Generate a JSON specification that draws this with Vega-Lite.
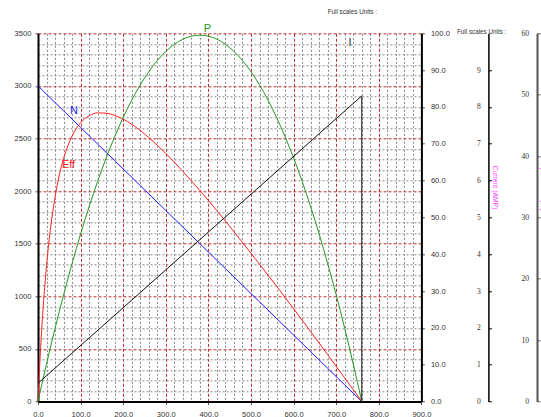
{
  "$schema": "https://vega.github.io/schema/vega-lite/v6.json",
  "autosize": {"type": "none"},
  "padding": {"left": 38, "top": 33.3, "right": 119.6, "bottom": 15.5},
  "width": 383.4,
  "height": 368.2,
  "config": {
    "view": {"stroke": null},
    "font": "Liberation Sans",
    "axis": {"labelFont": "Liberation Sans", "labelFontSize": 7.6, "labelColor": "#333333", "labelFlush": false, "labelOverlap": false, "titleFont": "Liberation Sans"}
  },
  "datasets": {
    "curves": [
      {"torque": 0, "speed": 3000, "eff": 0, "power": 0},
      {"torque": 2, "speed": 2992.1, "eff": 5.1, "power": 0.63},
      {"torque": 5, "speed": 2980.3, "eff": 12.1, "power": 1.56},
      {"torque": 10, "speed": 2960.5, "eff": 21.9, "power": 3.10},
      {"torque": 20, "speed": 2921.1, "eff": 36.9, "power": 6.12},
      {"torque": 30, "speed": 2881.6, "eff": 47.6, "power": 9.05},
      {"torque": 40, "speed": 2842.1, "eff": 55.5, "power": 11.91},
      {"torque": 50, "speed": 2802.6, "eff": 61.5, "power": 14.68},
      {"torque": 60, "speed": 2763.2, "eff": 66.0, "power": 17.36},
      {"torque": 80, "speed": 2684.2, "eff": 72.1, "power": 22.49},
      {"torque": 100, "speed": 2605.3, "eff": 75.7, "power": 27.28},
      {"torque": 120, "speed": 2526.3, "eff": 77.6, "power": 31.75},
      {"torque": 140, "speed": 2447.4, "eff": 78.4, "power": 35.88},
      {"torque": 160, "speed": 2368.4, "eff": 78.3, "power": 39.68},
      {"torque": 180, "speed": 2289.5, "eff": 77.7, "power": 43.16},
      {"torque": 200, "speed": 2210.5, "eff": 76.7, "power": 46.30},
      {"torque": 240, "speed": 2052.6, "eff": 73.6, "power": 51.59},
      {"torque": 280, "speed": 1894.7, "eff": 69.6, "power": 55.56},
      {"torque": 320, "speed": 1736.8, "eff": 65.0, "power": 58.20},
      {"torque": 360, "speed": 1578.9, "eff": 59.9, "power": 59.53},
      {"torque": 380, "speed": 1500, "eff": 57.3, "power": 59.69},
      {"torque": 400, "speed": 1421.1, "eff": 54.6, "power": 59.53},
      {"torque": 440, "speed": 1263.2, "eff": 49.0, "power": 58.20},
      {"torque": 480, "speed": 1105.3, "eff": 43.2, "power": 55.56},
      {"torque": 520, "speed": 947.4, "eff": 37.3, "power": 51.59},
      {"torque": 560, "speed": 789.5, "eff": 31.3, "power": 46.30},
      {"torque": 600, "speed": 631.6, "eff": 25.2, "power": 39.68},
      {"torque": 640, "speed": 473.7, "eff": 19.0, "power": 31.75},
      {"torque": 680, "speed": 315.8, "eff": 12.7, "power": 22.49},
      {"torque": 720, "speed": 157.9, "eff": 6.4, "power": 11.91},
      {"torque": 740, "speed": 78.9, "eff": 3.2, "power": 6.12},
      {"torque": 760, "speed": 0, "eff": 0, "power": 0}
    ],
    "current": [
      {"torque": 0, "current": 0.494, "seq": 1},
      {"torque": 760, "current": 8.3, "seq": 2},
      {"torque": 760, "current": 0, "seq": 3}
    ],
    "labels": [
      {"label": "N", "torque": 84.5, "speed": 2761},
      {"label": "Eff", "torque": 71.6, "speed": 2249},
      {"label": "P", "torque": 397.9, "speed": 3543},
      {"label": "I", "torque": 732.4, "speed": 3410}
    ],
    "notes": [
      {"label": "Full scales Units :", "torque": 680, "speed": 3704.6},
      {"label": "Full scales Units :", "torque": 983.6, "speed": 3517}
    ]
  },
  "layer": [
    {
      "data": {"name": "curves"},
      "mark": {"type": "line", "color": "#1a1aff", "strokeWidth": 1},
      "encoding": {
        "x": {"field": "torque", "type": "quantitative", "scale": {"domain": [0, 900], "nice": false},
          "axis": {"orient": "bottom", "values": [20,40,60,80,120,140,160,180,220,240,260,280,320,340,360,380,420,440,460,480,520,540,560,580,620,640,660,680,720,740,760,780,820,840,860,880],
            "grid": true, "gridColor": "#8a8a8a", "gridDash": [2, 2], "gridWidth": 1, "labels": false, "ticks": false, "domain": false, "title": null}},
        "y": {"field": "speed", "type": "quantitative", "scale": {"domain": [0, 3500], "nice": false},
          "axis": {"orient": "left", "values": [100,200,300,400,600,700,800,900,1100,1200,1300,1400,1600,1700,1800,1900,2100,2200,2300,2400,2600,2700,2800,2900,3100,3200,3300,3400],
            "grid": true, "gridColor": "#8a8a8a", "gridDash": [2, 2], "gridWidth": 1, "labels": false, "ticks": false, "domain": false, "title": null}}
      }
    },
    {
      "data": {"name": "labels"},
      "mark": {"type": "text", "fontSize": 11, "font": "Liberation Sans"},
      "encoding": {
        "x": {"field": "torque", "type": "quantitative", "scale": {"domain": [0, 900], "nice": false},
          "axis": {"orient": "bottom", "values": [0,100,200,300,400,500,600,700,800,900], "format": ".1f", "grid": true, "gridColor": "#b83030", "gridDash": [3, 2], "gridWidth": 1,
            "domainColor": "#000000", "domainWidth": 2, "tickColor": "#555555", "tickSize": 3, "labelPadding": 6, "labelColor": "#333333", "title": null}},
        "y": {"field": "speed", "type": "quantitative", "scale": {"domain": [0, 3500], "nice": false},
          "axis": {"orient": "left", "values": [0,500,1000,1500,2000,2500,3000,3500], "format": "d", "grid": true, "gridColor": "#b83030", "gridDash": [3, 2], "gridWidth": 1,
            "domainColor": "#000000", "domainWidth": 2, "tickColor": "#555555", "tickSize": 3, "labelPadding": 4, "labelColor": "#333333", "title": null}},
        "text": {"field": "label"},
        "color": {"field": "label", "type": "nominal", "scale": {"domain": ["N", "Eff", "P", "I"], "range": ["#1a1aff", "#ff2020", "#229922", "#333333"]}, "legend": null}
      }
    },
    {
      "data": {"name": "curves"},
      "mark": {"type": "line", "color": "#ff2020", "strokeWidth": 1, "interpolate": "monotone"},
      "encoding": {
        "x": {"field": "torque", "type": "quantitative", "scale": {"domain": [0, 900], "nice": false}, "axis": null},
        "y": {"field": "eff", "type": "quantitative", "scale": {"domain": [0, 100], "nice": false},
          "axis": {"orient": "right", "values": [0,10,20,30,40,50,60,70,80,90,100], "format": ".1f", "grid": false,
            "domainColor": "#000000", "domainWidth": 2, "tickColor": "#555555", "tickSize": 3, "labelPadding": 6, "labelColor": "#333333", "title": null}}
      }
    },
    {
      "data": {"name": "curves"},
      "mark": {"type": "line", "color": "#229922", "strokeWidth": 1, "interpolate": "monotone"},
      "encoding": {
        "x": {"field": "torque", "type": "quantitative", "scale": {"domain": [0, 900], "nice": false}, "axis": null},
        "y": {"field": "power", "type": "quantitative", "scale": {"domain": [0, 60], "nice": false},
          "axis": {"orient": "right", "offset": 115.6, "values": [0,10,20,30,40,50,60], "format": "d", "grid": false,
            "labelFont": "Liberation Serif", "labelFontSize": 7.6, "labelAlign": "right", "labelPadding": -11.5, "labelColor": "#333333",
            "domainColor": "#555555", "domainWidth": 2, "tickColor": "#555555", "tickSize": 3,
            "title": "Output Power (W)", "titleColor": "#ff40ff", "titleFontSize": 6.8, "titleFontWeight": "normal",
            "titleX": 2.5, "titleY": 150, "titleAngle": 90, "titleBaseline": "bottom"}}
      }
    },
    {
      "data": {"name": "current"},
      "mark": {"type": "line", "color": "#111111", "strokeWidth": 1},
      "encoding": {
        "x": {"field": "torque", "type": "quantitative", "scale": {"domain": [0, 900], "nice": false}, "axis": null},
        "y": {"field": "current", "type": "quantitative", "scale": {"domain": [0, 10], "nice": false},
          "axis": {"orient": "right", "offset": 67, "values": [0,1,2,3,4,5,6,7,8,9], "format": "d", "grid": false,
            "labelFont": "Liberation Serif", "labelFontSize": 7.6, "labelAlign": "right", "labelPadding": -11, "labelColor": "#333333",
            "domainColor": "#000000", "domainWidth": 1.5, "tickColor": "#000000", "tickSize": 3,
            "title": "Current (AMP)", "titleColor": "#ff40ff", "titleFontSize": 6.8, "titleFontWeight": "normal",
            "titleX": 3.4, "titleY": 153.7, "titleAngle": 90, "titleBaseline": "bottom"}},
        "order": {"field": "seq"}
      }
    },
    {
      "data": {"name": "notes"},
      "mark": {"type": "text", "fontSize": 6.3, "font": "Liberation Sans", "align": "left", "baseline": "middle", "color": "#333333"},
      "encoding": {
        "x": {"field": "torque", "type": "quantitative", "scale": {"domain": [0, 900], "nice": false}, "axis": null},
        "y": {"field": "speed", "type": "quantitative", "scale": {"domain": [0, 3500], "nice": false}, "axis": null},
        "text": {"field": "label"}
      }
    }
  ],
  "resolve": {"scale": {"y": "independent"}, "axis": {"x": "independent", "y": "independent"}}
}
